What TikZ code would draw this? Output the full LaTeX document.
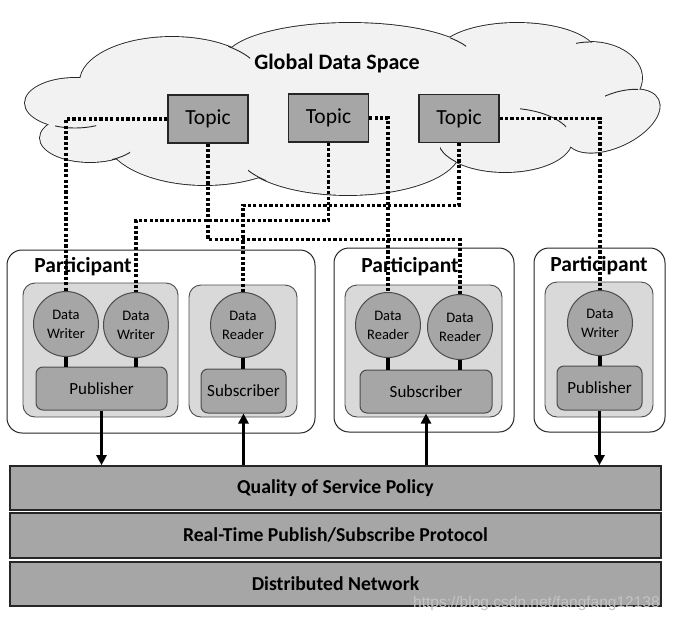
\documentclass[tikz,border=0pt]{standalone}
\usepackage{fontspec}
\setmainfont{Carlito}
\newfontfamily\wmfont{Liberation Sans}
\usetikzlibrary{arrows.meta}
\definecolor{cloudfill}{HTML}{F2F2F2}
\definecolor{boxgray}{HTML}{A6A6A6}
\definecolor{grpgray}{HTML}{D9D9D9}
\definecolor{wmgray}{HTML}{C4C4C4}
\newcommand\cloudbumps[1]{%
  \path[#1] (75,103) ellipse[x radius=50pt,y radius=25pt];
  \path[#1] (172,82) ellipse[x radius=92pt,y radius=45pt];
  \path[#1] (350,60) ellipse[x radius=125pt,y radius=37pt];
  \path[#1] (517,55) ellipse[x radius=80pt,y radius=32pt];
  \path[#1] (590,78) ellipse[x radius=52pt,y radius=36pt];
  \path[#1,rotate around={25:(613,121)}] (613,121) ellipse[x radius=50pt,y radius=26pt];
  \path[#1] (505,140) ellipse[x radius=67pt,y radius=32pt];
  \path[#1] (348,150) ellipse[x radius=112pt,y radius=45pt];
  \path[#1] (205,135) ellipse[x radius=100pt,y radius=50pt];
  \path[#1] (90,138) ellipse[x radius=50pt,y radius=24pt];
  \path[#1] (340,110) ellipse[x radius=260pt,y radius=55pt];
}
\newcommand\cloudtail[3]{%
  \begin{scope}
    \clip #1 rectangle #2;
    \path[draw=black!85,line width=0.9pt] #3;
  \end{scope}
}
\tikzset{
  topicbox/.style={draw=black!85, line width=1.3pt, fill=boxgray, minimum width=80pt,
    minimum height=48pt, inner sep=0pt, font=\fontsize{21.5}{25}\selectfont},
  partbox/.style={draw=black!85, line width=1pt, fill=white, rounded corners=15pt, inner sep=0pt},
  grpbox/.style={draw=black!70, line width=0.9pt, fill=grpgray, rounded corners=12pt, inner sep=0pt},
  circ/.style={circle, draw=black!70, line width=1pt, fill=boxgray, minimum size=65pt,
    inner sep=0pt, align=center, font=\fontsize{14.5}{19}\selectfont},
  psbox/.style={draw=black!70, line width=1pt, fill=boxgray, rounded corners=7pt,
    inner sep=0pt, font=\fontsize{17}{20}\selectfont},
  bar/.style={draw=black!85, line width=1.6pt, fill=boxgray, minimum width=651pt,
    inner sep=0pt, font=\bfseries\fontsize{19.7}{23}\selectfont},
  parttitle/.style={font=\bfseries\fontsize{21.5}{25}\selectfont, inner sep=0pt},
  dotline/.style={line width=3.2pt, dash pattern=on 3.2pt off 2.2pt, black},
  linkline/.style={line width=3.2pt, black},
  arrowline/.style={line width=3pt, black, -{Triangle[length=10pt,width=10pt]}}
}
\begin{document}
\begin{tikzpicture}[x=1pt,y=-1pt]
\useasboundingbox[fill=white] (0,0) rectangle (675,624);
% cloud
\cloudbumps{draw=black!85,line width=1.8pt}
\cloudbumps{fill=cloudfill}
\cloudtail{(55,112)}{(96,132)}{(75,103) ellipse[x radius=50pt,y radius=25pt]}
\cloudtail{(112,145)}{(130,165)}{(90,138) ellipse[x radius=50pt,y radius=24pt]}
\cloudtail{(248,165)}{(266,182)}{(348,150) ellipse[x radius=112pt,y radius=45pt]}
\cloudtail{(440,145)}{(456,165)}{(505,140) ellipse[x radius=67pt,y radius=32pt]}
\cloudtail{(520,100)}{(566,130)}{(505,140) ellipse[x radius=67pt,y radius=32pt]}
\cloudtail{(605,80)}{(638,100)}{[rotate around={25:(613,121)}] (613,121) ellipse[x radius=50pt,y radius=26pt]}
\cloudtail{(228,40)}{(250,62)}{(172,82) ellipse[x radius=92pt,y radius=45pt]}
\cloudtail{(450,30)}{(466,50)}{(350,60) ellipse[x radius=125pt,y radius=37pt]}
\cloudtail{(576,36)}{(592,50)}{(590,78) ellipse[x radius=52pt,y radius=36pt]}
\node[font=\bfseries\fontsize{22}{26}\selectfont, inner sep=0pt] (gds) at (337,64) {Global Data Space};
% topics
\node[topicbox] (t1) at (208,119) {Topic};
\node[topicbox] (t2) at (328.5,118) {Topic};
\node[topicbox] (t3) at (459,118.5) {Topic};
% participants
\node[partbox, minimum width=308pt, minimum height=183pt] (p1) at (161,341.5) {};
\node[partbox, minimum width=180pt, minimum height=184pt] (p2) at (424,340) {};
\node[partbox, minimum width=131pt, minimum height=184pt] (p3) at (599.5,340) {};
\node[grpbox, minimum width=155pt, minimum height=134pt] (g1a) at (100.5,350) {};
\node[grpbox, minimum width=108pt, minimum height=132pt] (g1b) at (243,351) {};
\node[grpbox, minimum width=157pt, minimum height=132pt] (g2) at (423.5,351) {};
\node[grpbox, minimum width=108pt, minimum height=135pt] (g3) at (599,349.5) {};
\node[parttitle] (pt1) at (83,267) {Participant};
\node[parttitle] (pt2) at (410,267) {Participant};
\node[parttitle] (pt3) at (599,266) {Participant};
% entities
\node[circ] (dw1) at (66,324) {Data\\Writer};
\node[circ] (dw2) at (136,325) {Data\\Writer};
\node[circ] (dr1) at (243,325) {Data\\Reader};
\node[circ] (dr2) at (388,325) {Data\\Reader};
\node[circ] (dr3) at (460,327) {Data\\Reader};
\node[circ] (dw3) at (600,323) {Data\\Writer};
\node[psbox, minimum width=131pt, minimum height=43pt] (pub1) at (101.5,388.5) {Publisher};
\node[psbox, minimum width=85pt, minimum height=44pt] (sub1) at (243.5,391) {Subscriber};
\node[psbox, minimum width=132pt, minimum height=43pt] (sub2) at (426,391.5) {Subscriber};
\node[psbox, minimum width=85pt, minimum height=44pt] (pub3) at (599.5,388) {Publisher};
\draw[linkline] (dw1.south) -- (dw1.south |- pub1.north);
\draw[linkline] (dw2.south) -- (dw2.south |- pub1.north);
\draw[linkline] (dr1.south) -- (dr1.south |- sub1.north);
\draw[linkline] (dr2.south) -- (dr2.south |- sub2.north);
\draw[linkline] (dr3.south) -- (dr3.south |- sub2.north);
\draw[linkline] (dw3.south) -- (dw3.south |- pub3.north);
% dotted topic links
\draw[dotline] (t1.west) -| (dw1.north);
\draw[dotline] (t1.south) -- ++(0,96) -| (dr3.north);
\draw[dotline] (t2.south) -- ++(0,78) -| (dw2.north);
\draw[dotline] (t2.east) -| (dr2.north);
\draw[dotline] (t3.south) -- ++(0,62) -| (dr1.north);
\draw[dotline] (t3.east) -| (dw3.north);
% layers
\node[bar, minimum height=44pt] (qos) at (335.5,488) {Quality of Service Policy};
\node[bar, minimum height=45pt] (rtps) at (335.5,535.5) {Real-Time Publish/Subscribe Protocol};
\node[bar, minimum height=44pt] (dn) at (335.5,584) {Distributed Network};
\draw[arrowline] (pub1.south) -- (pub1.south |- qos.north);
\draw[arrowline] (sub1.south |- qos.north) -- (sub1.south);
\draw[arrowline] (sub2.south |- qos.north) -- (sub2.south);
\draw[arrowline] (pub3.south) -- (pub3.south |- qos.north);
\node[font=\wmfont\fontsize{15.5}{18}\selectfont, text=wmgray, anchor=west, inner sep=0pt] (wm) at (413,603) {https://blog.csdn.net/fangfang12138};
\end{tikzpicture}
\end{document}
